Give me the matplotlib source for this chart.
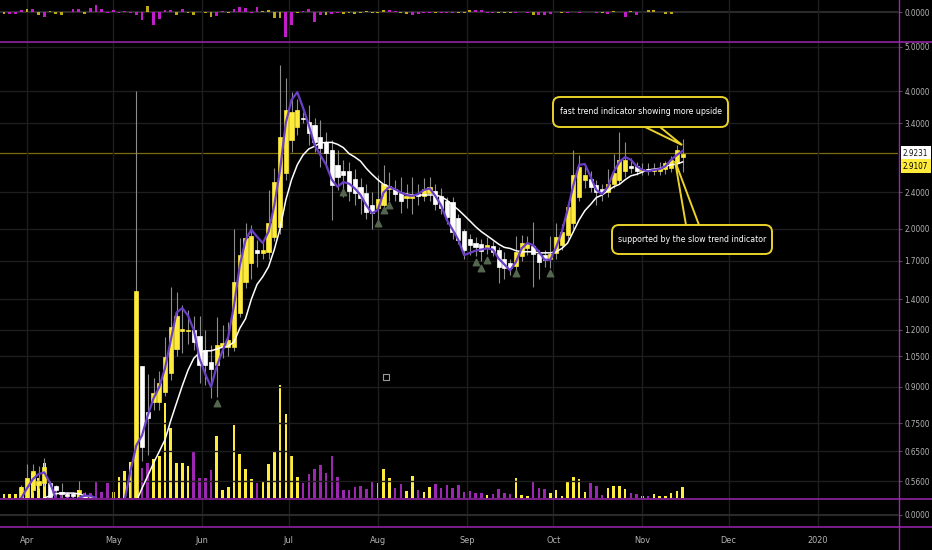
import os
import pandas as pd
import matplotlib
matplotlib.use('Agg')
import matplotlib.pyplot as plt
import matplotlib.dates as mdates
from matplotlib import font_manager
from matplotlib.font_manager import FontProperties
from matplotlib.transforms import blended_transform_factory, IdentityTransform
from matplotlib.patches import FancyBboxPatch, Polygon
from matplotlib.lines import Line2D

# 2-day candles, first one on 2019-03-24
start_date = '2019-03-24'

opens = [0.50, 0.50, 0.50, 0.515, 0.515, 0.535, 0.55, 0.555, 0.555, 0.545,
         0.53, 0.525, 0.525, 0.525, 0.52, 0.50, 0.495, 0.485, 0.475, 0.465,
         0.47, 0.48, 0.49, 0.50, 1.00, 0.795, 0.834, 0.834, 0.877, 0.965,
         1.09, 1.195, 1.195, 1.20, 1.164, 1.084, 1.02, 1.006, 1.10, 1.10,
         1.10, 1.31, 1.53, 1.68, 1.80, 1.77, 1.78, 1.92, 2.02, 2.65,
         3.13, 3.34, 3.50, 3.43, 3.37, 3.17, 3.09, 2.97, 2.76, 2.67,
         2.67, 2.57, 2.47, 2.39, 2.25, 2.22, 2.25, 2.44, 2.44, 2.39,
         2.33, 2.33, 2.38, 2.36, 2.39, 2.42, 2.36, 2.30, 2.29, 2.11,
         1.98, 1.90, 1.86, 1.85, 1.81, 1.83, 1.80, 1.72, 1.68, 1.66,
         1.74, 1.81, 1.83, 1.76, 1.75, 1.72, 1.77, 1.84, 1.94, 2.06,
         2.35, 2.56, 2.57, 2.49, 2.44, 2.41, 2.50, 2.56, 2.67, 2.74,
         2.74, 2.68, 2.70, 2.67, 2.68, 2.70, 2.72, 2.78, 2.87]
highs = [0.505, 0.505, 0.505, 0.55, 0.61, 0.61, 0.605, 0.63, 0.56, 0.55,
         0.555, 0.53, 0.53, 0.56, 0.53, 0.51, 0.50, 0.49, 0.48, 0.475,
         0.49, 0.53, 0.585, 4.00, 1.00, 0.96, 0.94, 0.975, 1.158, 1.49,
         1.45, 1.36, 1.33, 1.29, 1.29, 1.20, 1.11, 1.28, 1.23, 1.25,
         2.00, 1.91, 2.06, 2.04, 1.89, 1.87, 2.43, 2.72, 4.57, 4.28,
         3.98, 3.85, 3.60, 3.73, 3.50, 3.46, 3.25, 3.13, 2.97, 2.83,
         2.80, 2.70, 2.58, 2.50, 2.40, 2.62, 2.76, 2.66, 2.55, 2.60,
         2.50, 2.60, 2.50, 2.58, 2.60, 2.50, 2.45, 2.35, 2.35, 2.15,
         2.00, 1.95, 1.92, 1.90, 1.92, 1.88, 1.82, 1.78, 1.72, 1.93,
         1.94, 1.93, 2.07, 1.80, 1.80, 1.93, 2.06, 2.05, 2.25, 2.97,
         2.90, 2.75, 2.68, 2.55, 2.50, 2.70, 2.92, 3.25, 3.10, 2.85,
         2.80, 2.78, 2.78, 2.78, 2.80, 2.82, 2.88, 3.05, 3.15]
lows = [0.49, 0.49, 0.49, 0.51, 0.51, 0.53, 0.54, 0.545, 0.51, 0.52,
        0.514, 0.51, 0.51, 0.52, 0.50, 0.49, 0.48, 0.47, 0.46, 0.46,
        0.465, 0.47, 0.48, 0.49, 0.62, 0.64, 0.80, 0.80, 0.86, 0.93,
        1.05, 1.07, 1.12, 1.085, 0.92, 0.91, 0.852, 0.856, 1.04, 1.05,
        1.08, 1.28, 1.48, 1.55, 1.65, 1.72, 1.72, 1.88, 1.95, 2.55,
        2.95, 3.20, 3.40, 3.05, 2.95, 2.73, 2.75, 2.09, 2.43, 2.35,
        2.30, 2.25, 2.15, 2.10, 2.00, 2.03, 2.20, 2.30, 2.30, 2.16,
        2.22, 2.15, 2.25, 2.30, 2.30, 2.20, 2.15, 2.05, 1.90, 1.85,
        1.72, 1.75, 1.74, 1.70, 1.76, 1.74, 1.52, 1.55, 1.58, 1.60,
        1.70, 1.75, 1.49, 1.55, 1.65, 1.64, 1.72, 1.80, 1.90, 2.00,
        2.30, 2.45, 2.40, 2.25, 2.30, 2.35, 2.45, 2.50, 2.60, 2.65,
        2.62, 2.62, 2.62, 2.62, 2.62, 2.64, 2.66, 2.72, 2.66]
closes = [0.502, 0.502, 0.502, 0.544, 0.568, 0.59, 0.56, 0.60, 0.517, 0.535,
          0.525, 0.52, 0.52, 0.535, 0.515, 0.495, 0.485, 0.475, 0.465, 0.47,
          0.48, 0.49, 0.50, 1.46, 0.665, 0.77, 0.873, 0.918, 1.047, 1.22,
          1.29, 1.205, 1.20, 1.13, 1.006, 1.006, 0.986, 1.11, 1.125, 1.14,
          1.53, 1.75, 1.91, 1.93, 1.77, 1.80, 2.06, 2.53, 3.18, 3.64,
          3.60, 3.64, 3.48, 3.24, 3.10, 3.00, 2.93, 2.49, 2.60, 2.62,
          2.42, 2.39, 2.33, 2.17, 2.16, 2.32, 2.50, 2.48, 2.38, 2.30,
          2.36, 2.36, 2.36, 2.44, 2.47, 2.27, 2.22, 2.12, 1.97, 1.89,
          1.80, 1.84, 1.82, 1.79, 1.84, 1.78, 1.65, 1.64, 1.64, 1.78,
          1.86, 1.85, 1.76, 1.69, 1.71, 1.76, 1.92, 1.97, 2.23, 2.62,
          2.73, 2.62, 2.47, 2.40, 2.40, 2.51, 2.65, 2.83, 2.83, 2.72,
          2.67, 2.70, 2.67, 2.70, 2.72, 2.78, 2.83, 2.97, 2.9107]
volumes = [4, 4, 4, 11, 20, 25, 20, 35, 15, 8,
           6, 5, 5, 8, 5, 5, 16, 6, 15, 6,
           21, 27, 36, 70, 30, 35, 39, 42, 95, 70,
           35, 35, 32, 46, 20, 20, 28, 62, 8, 11,
           73, 44, 29, 19, 15, 16, 34, 46, 113, 84,
           42, 21, 15, 24, 29, 33, 25, 42, 21, 8,
           8, 11, 12, 9, 17, 15, 29, 20, 10, 14,
           7, 22, 8, 6, 11, 14, 10, 13, 10, 13,
           6, 7, 5, 5, 3, 4, 9, 5, 4, 20,
           3, 2, 16, 10, 9, 5, 8, 2, 16, 21,
           19, 6, 15, 12, 3, 10, 12, 12, 9, 5,
           4, 2, 2, 4, 2, 2, 5, 7, 11]
fast_trend = [0.50, 0.50, 0.50, 0.514, 0.54, 0.565, 0.58, 0.585, 0.555, 0.514,
              0.50, 0.50, 0.505, 0.514, 0.52, 0.52, 0.514, 0.50, 0.49, 0.49,
              0.49, 0.51, 0.59, 0.67, 0.705, 0.78, 0.85, 0.90, 0.99, 1.14,
              1.31, 1.34, 1.29, 1.20, 1.04, 0.96, 0.90, 1.00, 1.08, 1.16,
              1.36, 1.66, 1.89, 1.99, 1.92, 1.86, 1.97, 2.25, 2.69, 3.41,
              3.83, 3.98, 3.68, 3.37, 3.05, 2.90, 2.76, 2.56, 2.47, 2.53,
              2.51, 2.45, 2.37, 2.25, 2.16, 2.20, 2.40, 2.47, 2.44, 2.40,
              2.37, 2.36, 2.38, 2.43, 2.45, 2.36, 2.25, 2.09, 1.99, 1.89,
              1.75, 1.77, 1.79, 1.80, 1.81, 1.80, 1.72, 1.67, 1.62, 1.69,
              1.81, 1.86, 1.84, 1.78, 1.71, 1.71, 1.82, 1.97, 2.20, 2.49,
              2.76, 2.77, 2.60, 2.43, 2.38, 2.47, 2.66, 2.80, 2.87, 2.83,
              2.74, 2.69, 2.67, 2.69, 2.70, 2.74, 2.83, 2.90, 2.96]
slow_trend = [0.49, 0.49, 0.49, 0.49, 0.49, 0.50, 0.505, 0.514, 0.52, 0.525,
              0.527, 0.527, 0.527, 0.525, 0.52, 0.517, 0.514, 0.505, 0.50, 0.495,
              0.49, 0.49, 0.495, 0.505, 0.54, 0.575, 0.613, 0.65, 0.69, 0.76,
              0.83, 0.905, 0.98, 1.04, 1.07, 1.08, 1.08, 1.09, 1.10, 1.105,
              1.13, 1.21, 1.27, 1.40, 1.51, 1.57, 1.65, 1.80, 2.00, 2.31,
              2.56, 2.76, 2.90, 2.99, 3.03, 3.08, 3.09, 3.09, 3.06, 3.01,
              2.92, 2.87, 2.81, 2.71, 2.63, 2.56, 2.50, 2.47, 2.43, 2.40,
              2.38, 2.37, 2.37, 2.37, 2.37, 2.37, 2.35, 2.31, 2.25, 2.20,
              2.14, 2.08, 2.02, 1.97, 1.93, 1.89, 1.85, 1.82, 1.81, 1.79,
              1.78, 1.78, 1.78, 1.77, 1.77, 1.77, 1.78, 1.81, 1.86, 1.97,
              2.09, 2.19, 2.26, 2.34, 2.37, 2.42, 2.47, 2.50, 2.56, 2.61,
              2.63, 2.66, 2.69, 2.70, 2.71, 2.74, 2.76, 2.77, 2.80]

# signal triangles under some candles
signal_idx = [37, 59, 65, 66, 67, 82, 83, 84, 89, 95]
signal_price = [0.83, 2.40, 2.06, 2.20, 2.25, 1.69, 1.64, 1.71, 1.60, 1.60]

# top oscillator pane (y = yellow, m = magenta)
osc = [-1.7, -1.7, -1.7, 1.7, 3.3, 3.0, -3.0, -4.7, 1.3, -2.0,
       -2.7, 0.5, 3.0, 3.0, -2.0, 4.0, 7.0, 2.7, -1.0, 1.7,
       -1.0, 1.3, -1.0, -2.7, -8.0, 6.0, -13.3, -7.3, 2.3, 1.7,
       -2.7, 2.7, -0.7, -2.7, 0.3, -1.3, -5.3, -4.0, 0.7, -0.7,
       3.0, 4.7, 4.3, -0.7, 4.7, 1.3, 1.7, -6.3, -6.3, -25.3,
       -13.0, -1.0, 1.3, 3.0, -9.7, -3.3, -2.7, -2.0, -0.7, -2.0,
       -0.5, -2.0, -0.5, 0.7, -0.5, -0.7, 2.3, 2.0, 1.0, -0.7,
       -2.0, -2.7, -2.0, -1.3, -1.0, -1.0, -0.7, -0.7, -0.7, -1.3,
       -1.3, 2.3, 2.3, 2.0, -0.7, -0.7, -1.3, -1.3, -1.3, -0.7,
       -0.3, -0.7, -2.7, -3.3, -2.7, -2.0, -0.3, -1.3, -1.3, -0.3,
       -0.7, -0.3, -0.3, -1.3, -1.3, -2.0, 1.0, -0.3, -4.7, 0.7,
       -3.0, -0.3, 2.3, 1.7, -0.3, -2.0, -2.0]
osc_col = ('ymmmymymyy' 'ymmmymmmmm' 'mmmmmymmmm' 'ymyyyyymmy' 'mmmmmyyyym'
           'mymmmmymmy' 'yyyyyyymmy' 'ymmmmymmmy' 'yymmmmyyym' 'mmymmmmymm'
           'mmmmymymmy' 'mmyyyyy')

price_ticks = [0.56, 0.65, 0.75, 0.90, 1.05, 1.20, 1.40, 1.70, 2.00, 2.40, 3.40, 4.00, 5.00]
hline_price = 2.9231
last_price = closes[-1]
month_ticks = pd.date_range('2019-04-01', '2020-01-01', freq='MS')
month_labels = ['Apr', 'May', 'Jun', 'Jul', 'Aug', 'Sep', 'Oct', 'Nov', 'Dec', '2020']
note_fast = 'fast trend indicator showing more upside'
note_slow = 'supported by the slow trend indicator'

# colours
YEL = '#FFEB3B'
PUR = '#9C27B0'
LINE_PUR = '#6A3FC6'
WICK = '#8c8c8c'
GRID = '#1e1e1e'
TXT = '#b4b4b4'
ANN = '#EBD22A'

# a narrow face for the labels if one is installed
narrow_file = None
for f in font_manager.fontManager.ttflist:
    base = os.path.basename(f.fname).lower()
    if base in ('liberationsansnarrow-regular.ttf', 'dejavusanscondensed.ttf'):
        narrow_file = f.fname
        if 'liberation' in base:
            break
if narrow_file:
    lab_fp = FontProperties(fname=narrow_file, size=5.9)
    date_fp = FontProperties(fname=narrow_file, size=6.6)
    ann_fp = FontProperties(fname=narrow_file, size=6.3)
else:
    lab_fp = FontProperties(family='DejaVu Sans', size=5.2)
    date_fp = FontProperties(family='DejaVu Sans', size=6.0)
    ann_fp = FontProperties(family='DejaVu Sans', size=5.6)

dates = pd.date_range(start_date, periods=len(closes), freq='2D')
x = mdates.date2num(dates)
x0 = mdates.date2num(pd.Timestamp('2019-04-01') - pd.Timedelta(days=9.39))
x1 = mdates.date2num(pd.Timestamp('2019-04-01') + pd.Timedelta(days=302.9))

W, H = 932, 550
fig = plt.figure(figsize=(W / 100, H / 100), dpi=100, facecolor='black')


def rect(top, bottom):
    return [0, 1 - bottom / H, 898 / W, (bottom - top) / H]


ax_top = fig.add_axes(rect(0, 41))
ax_vol = fig.add_axes(rect(42, 498), zorder=0)
ax = fig.add_axes(rect(42, 498), zorder=1)
ax_bot = fig.add_axes(rect(499, 526))

for a in (ax_top, ax_vol, ax, ax_bot):
    a.set_facecolor('black')
    for s in a.spines.values():
        s.set_visible(False)
    a.set_xlim(x0, x1)
    a.set_xticks(mdates.date2num(month_ticks))
    a.tick_params(axis='x', length=0, labelbottom=False)
    a.grid(axis='x', color=GRID, lw=1)
ax.patch.set_visible(False)
ax_vol.grid(False)
ax_vol.set_yticks([])

# volume overlay
vol_cols = [YEL if c >= o else PUR for o, c in zip(opens, closes)]
ax_vol.bar(x, volumes, width=0.9, color=vol_cols, zorder=2)
ax_vol.set_ylim(0, 456)

# candles
ax.set_yscale('log')
ax.set_ylim(0.5141, 5.127)
body_lo = [min(o, c) for o, c in zip(opens, closes)]
body_hi = [max(o, c) for o, c in zip(opens, closes)]
body_h = [h - l for l, h in zip(body_lo, body_hi)]
body_cols = [YEL if c >= o else 'white' for o, c in zip(opens, closes)]
ax.vlines(x, lows, highs, color=WICK, lw=0.8, zorder=2)
ax.bar(x, body_h, bottom=body_lo, width=1.45, color=body_cols,
       edgecolor=body_cols, lw=0.5, zorder=3)
ax.plot(x, slow_trend, color='white', lw=1.1, zorder=4)
ax.plot(x, fast_trend, color=LINE_PUR, lw=1.6, zorder=5)
ax.scatter(x[signal_idx], signal_price, marker='^', s=22, color='#55664f', zorder=4)
ax.scatter(mdates.date2num(pd.Timestamp('2019-08-04')), 0.945, marker='s', s=18,
           facecolors='none', edgecolors='#9a9a9a', lw=0.8, zorder=4)
ax.axhline(hline_price, color='#7d6c12', lw=0.9, zorder=1)

ax.yaxis.tick_right()
ax.set_yticks(price_ticks)
ax.set_yticklabels([f'{v:.4f}' for v in price_ticks])
ax.yaxis.set_minor_locator(matplotlib.ticker.NullLocator())
ax.tick_params(axis='y', length=3, width=0.8, color='#555555', labelcolor=TXT, pad=1.5)
ax.grid(axis='y', color=GRID, lw=1)
ax.grid(axis='x', color=GRID, lw=1)

blend = blended_transform_factory(ax.transAxes, ax.transData)
ax.text(1 + 5 / 898, hline_price, f'{hline_price:.4f}', transform=blend,
        ha='left', va='center', fontproperties=lab_fp, color='#111111', zorder=20,
        clip_on=False, bbox=dict(boxstyle='square,pad=0.3', fc='white', ec='none'))
ax.annotate(f'{last_price:.4f}', xy=(1 + 5 / 898, last_price), xycoords=blend,
            xytext=(0, -8.5), textcoords='offset points', ha='left', va='center',
            fontproperties=lab_fp, color='black', annotation_clip=False, zorder=20,
            bbox=dict(boxstyle='square,pad=0.3', fc=YEL, ec='none'))

# top oscillator
ax_top.bar(x[:len(osc)], osc, width=1.0,
           color=['#BDA81A' if c == 'y' else '#C21DC9' for c in osc_col], zorder=2)
ax_top.axhline(0, color='#2a2a2a', lw=1.5, zorder=1)
ax_top.set_ylim(-29, 12)
ax_top.yaxis.tick_right()
ax_top.set_yticks([0])
ax_top.set_yticklabels(['0.0000'])
ax_top.tick_params(axis='y', length=3, color='#555555', labelcolor=TXT, pad=1.5)

# empty bottom pane
ax_bot.axhline(0, color='#2a2a2a', lw=1.5)
ax_bot.set_ylim(-11, 16)
ax_bot.yaxis.tick_right()
ax_bot.set_yticks([0])
ax_bot.set_yticklabels(['0.0000'])
ax_bot.tick_params(axis='y', length=3, color='#555555', labelcolor=TXT, pad=1.5)
ax_bot.set_xticklabels(month_labels)
ax_bot.tick_params(axis='x', labelbottom=True, labelcolor=TXT, pad=7)

for a in (ax_top, ax, ax_bot):
    for lbl in a.get_yticklabels():
        lbl.set_fontproperties(lab_fp)
for lbl in ax_bot.get_xticklabels():
    lbl.set_fontproperties(date_fp)

# pane separators
for yy in (41.5, 498.5, 526.5):
    fig.add_artist(Line2D([0, 1], [1 - yy / H] * 2, transform=fig.transFigure,
                          color=PUR, lw=1.1, zorder=30))
fig.add_artist(Line2D([898.5 / W] * 2, [0, 1], transform=fig.transFigure,
                      color=PUR, lw=1.0, zorder=30))


def callout(text, box, base, tip):
    bx0, by0, bx1, by1 = box
    wedge = Polygon([(base[0], H - base[2]), (tip[0], H - tip[1]), (base[1], H - base[2])],
                    closed=True, fc='black', ec=ANN, lw=1.4,
                    transform=IdentityTransform(), zorder=40)
    fig.add_artist(wedge)
    patch = FancyBboxPatch((bx0, H - by1), bx1 - bx0, by1 - by0,
                           boxstyle='round,pad=0,rounding_size=7', fc='black', ec=ANN,
                           lw=1.4, transform=IdentityTransform(), zorder=41)
    fig.add_artist(patch)
    fig.text((bx0 + bx1) / 2 / W, 1 - (by0 + by1) / 2 / H, text, ha='center', va='center',
             color='white', fontproperties=ann_fp, zorder=42)


callout(note_fast, (553, 97, 728, 127), (645, 660, 127), (682, 145))
callout(note_slow, (612, 225, 772, 254), (686, 699, 225), (675, 161))

fig.savefig('out.png', dpi=100, facecolor='black')
